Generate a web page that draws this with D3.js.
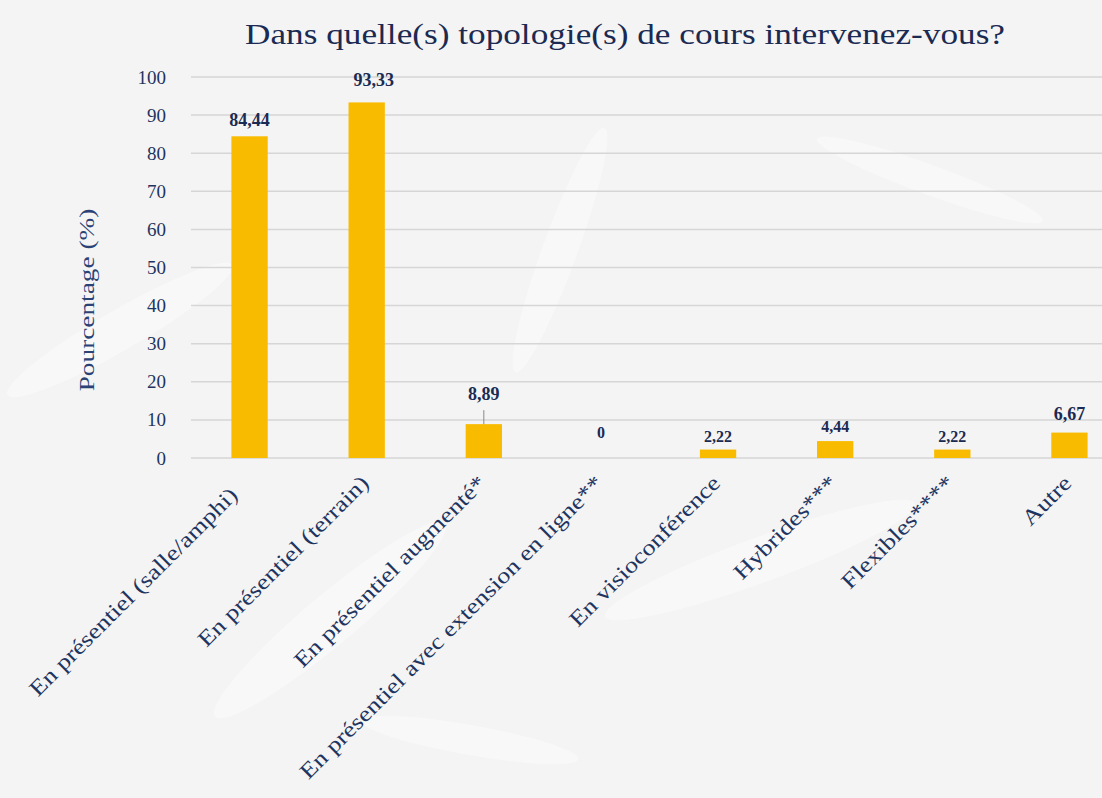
<!DOCTYPE html>
<html>
<head>
<meta charset="utf-8">
<script src="https://cdnjs.cloudflare.com/ajax/libs/d3/7.8.5/d3.min.js"></script>
<style>
body { margin: 0; background: #f5f5f5; }
svg { display: block; font-family: "Liberation Serif", serif; }
</style>
</head>
<body>
<div id="chart"></div>
<script>
var categories = ["En présentiel (salle/amphi)", "En présentiel (terrain)", "En présentiel augmenté*",
	"En présentiel avec extension en ligne**", "En visioconférence", "Hybrides***", "Flexibles****", "Autre"];
var values = [84.44, 93.33, 8.89, 0, 2.22, 4.44, 2.22, 6.67];
var labels = ["84,44", "93,33", "8,89", "0", "2,22", "4,44", "2,22", "6,67"];
var yTicks = [0, 10, 20, 30, 40, 50, 60, 70, 80, 90, 100];

var W = 1102, H = 798;
var navy = "#1e3461";

var svg = d3.select("#chart").append("svg").attr("width", W).attr("height", H);

// faint watermark leaves in the background
svg.append("rect").attr("width", W).attr("height", H).attr("fill", "#f4f4f4");
var leaves = [[120, 330, -30, 260, 40], [330, 620, -40, 300, 50], [560, 250, -70, 260, 35], [760, 560, -20, 330, 45], [930, 180, 20, 240, 30], [470, 740, 10, 220, 30]];
svg.selectAll("ellipse.leaf").data(leaves).enter().append("ellipse")
	.attr("class", "leaf")
	.attr("cx", 0).attr("cy", 0)
	.attr("rx", function (d) { return d[3] / 2; })
	.attr("ry", function (d) { return d[4] / 2; })
	.attr("transform", function (d) { return "translate(" + d[0] + "," + d[1] + ") rotate(" + d[2] + ")"; })
	.attr("fill", "#ffffff").attr("opacity", 0.4);

var x = d3.scaleBand().domain(categories).range([191, 1128]).paddingInner(0.69).paddingOuter(0.345);
var y = d3.scaleLinear().domain([0, 100]).range([458, 77]);

// gridlines
svg.append("g").selectAll("line").data(yTicks).enter().append("line")
	.attr("x1", 191).attr("x2", W)
	.attr("y1", function (d) { return y(d); })
	.attr("y2", function (d) { return y(d); })
	.attr("stroke", "#d6d6d6").attr("stroke-width", 1.5);

// y axis tick labels
var yAxis = d3.axisLeft(y).tickValues(yTicks).tickSize(0).tickPadding(0);
var gy = svg.append("g").attr("transform", "translate(166,0)").call(yAxis);
gy.select(".domain").remove();
gy.selectAll("text").attr("fill", navy).style("font-size", "19px").style("font-family", "Liberation Serif, serif");

// bars
svg.append("g").selectAll("rect").data(values).enter().append("rect")
	.attr("x", function (d, i) { return x(categories[i]); })
	.attr("y", function (d) { return y(d); })
	.attr("width", x.bandwidth())
	.attr("height", function (d) { return y(0) - y(d); })
	.attr("fill", "#f8bb00");

// data labels
var lift = [10, 16, 24, 20, 8, 9, 8, 13];
svg.append("g").selectAll("text").data(values).enter().append("text")
	.attr("x", function (d, i) { return x(categories[i]) + x.bandwidth() / 2 + (i == 1 ? 7 : 0); })
	.attr("y", function (d, i) { return y(d) - lift[i]; })
	.attr("text-anchor", "middle")
	.attr("fill", "#1b2a52")
	.attr("font-weight", "bold")
	.style("font-size", function (d, i) { return i < 3 || i == 7 ? "18px" : "16px"; })
	.text(function (d, i) { return labels[i]; });

// leader line for 8,89
svg.append("line")
	.attr("x1", x(categories[2]) + x.bandwidth() / 2).attr("x2", x(categories[2]) + x.bandwidth() / 2)
	.attr("y1", y(values[2]) - 14).attr("y2", y(values[2]))
	.attr("stroke", "#8a8a8a").attr("stroke-width", 1);

// x axis labels
svg.append("g").selectAll("text").data(categories).enter().append("text")
	.attr("transform", function (d, i) {
		var cx = x(d) + x.bandwidth() / 2 - 2, cy = 479;
		if (i == 0) { cx -= 14; cy += 12; }
		return "translate(" + cx + "," + cy + ") rotate(-45) scale(1.2,1)";
	})
	.attr("text-anchor", "end")
	.attr("dy", "0.35em")
	.attr("fill", navy)
	.style("font-size", "22px")
	.text(function (d) { return d; });

// y axis title
svg.append("text")
	.attr("transform", "translate(94,300) rotate(-90) scale(1.3,1)")
	.attr("text-anchor", "middle")
	.attr("fill", "#2a4275")
	.style("font-size", "21px")
	.text("Pourcentage (%)");

// title
svg.append("text")
	.attr("x", 625).attr("y", 44)
	.attr("text-anchor", "middle")
	.attr("fill", "#1b2a52")
	.attr("textLength", 760)
	.attr("lengthAdjust", "spacingAndGlyphs")
	.style("font-size", "29px")
	.text("Dans quelle(s) topologie(s) de cours intervenez-vous?");
</script>
</body>
</html>
